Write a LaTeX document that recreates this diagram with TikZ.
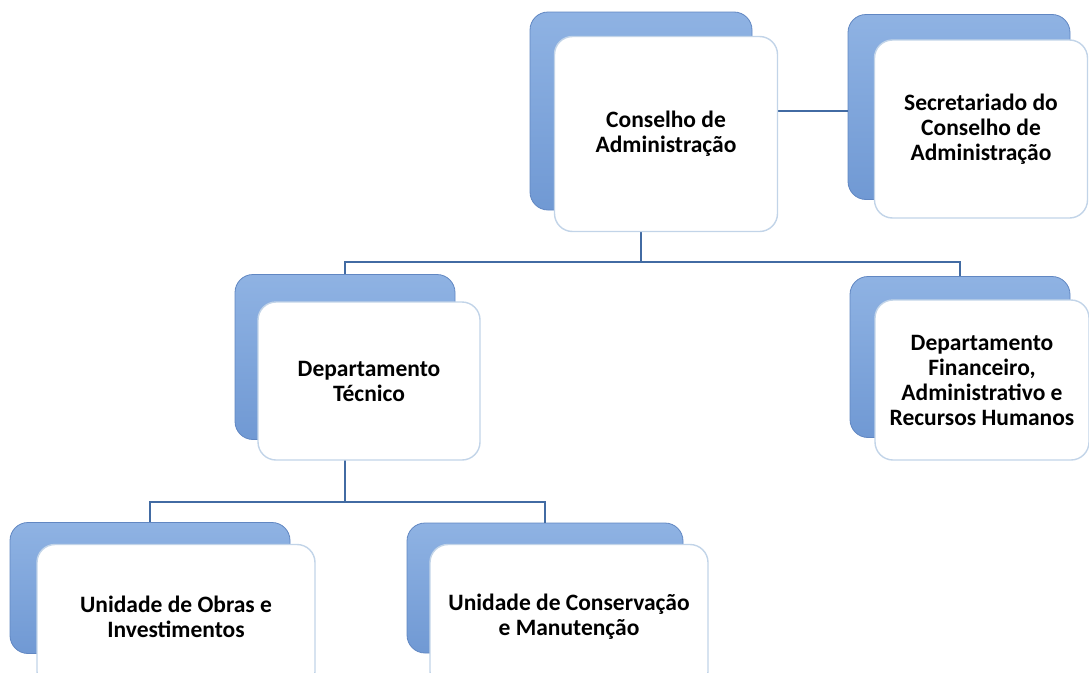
\documentclass[tikz,border=0pt]{standalone}
\usepackage{fontspec}
\setmainfont{Carlito}
\usetikzlibrary{positioning,calc}
\definecolor{cardblue}{rgb}{0.44, 0.60, 0.83}
\definecolor{cardbluetop}{rgb}{0.56, 0.70, 0.89}
\definecolor{cardedge}{rgb}{0.38, 0.53, 0.76}
\definecolor{whiteedge}{rgb}{0.76, 0.83, 0.91}
\definecolor{linkblue}{rgb}{0.26, 0.42, 0.64}
\tikzset{
	unitback/.style={
		rectangle,
		rounded corners=18pt,
		top color=cardbluetop,
		bottom color=cardblue,
		draw=cardedge, thick,
		inner sep=0pt},
	unitcard/.style={
		rectangle,
		rounded corners=18pt,
		fill=white,
		draw=whiteedge, line width=1.4pt,
		align=center,
		font=\bfseries\fontsize{23.5}{25}\selectfont,
		inner sep=0pt},
	link/.style={draw=linkblue, line width=1.8pt},
}

\begin{document}
\begin{tikzpicture}[x=1pt,y=-1pt]
\useasboundingbox (0,0) rectangle (1089,672);
% blue cards behind
\node[unitback, minimum width=222pt, minimum height=198pt] (cons-b) at (641,111) {};
\node[unitback, minimum width=222pt, minimum height=185pt] (sec-b) at (959,107) {};
\node[unitback, minimum width=220pt, minimum height=165pt] (tec-b) at (345,357) {};
\node[unitback, minimum width=220pt, minimum height=161pt] (fin-b) at (960,357) {};
\node[unitback, minimum width=280pt, minimum height=131pt] (obras-b) at (150,588) {};
\node[unitback, minimum width=276pt, minimum height=130pt] (cons-m-b) at (545,588) {};

% connectors
\coordinate (bus1) at (641,262);
\coordinate (bus2) at (345,502);
\draw[link] (cons-b.east) -- (cons-b.east -| sec-b.west);
\draw[link] (cons-b.south) -- (bus1) -| (tec-b.north);
\draw[link] (bus1) -| (fin-b.north);
\draw[link] (tec-b.south) -- (bus2) -| (obras-b.north);
\draw[link] (bus2) -| (cons-m-b.north);

% white cards
\node[unitcard, minimum width=223pt, minimum height=195pt] (conselho) at (666,134) {Conselho de\\Administração};
\node[unitcard, minimum width=213pt, minimum height=178pt] (secretariado) at (981,129) {Secretariado do\\Conselho de\\Administração};
\node[unitcard, minimum width=222pt, minimum height=158pt] (tecnico) at (369,381) {Departamento\\Técnico};
\node[unitcard, minimum width=214pt, minimum height=160pt] (financeiro) at (982,380) {Departamento\\Financeiro,\\Administrativo e\\Recursos Humanos};
\node[unitcard, minimum width=278pt, minimum height=145pt] (obras) at (176,617) {Unidade de Obras e\\Investimentos};
\node[unitcard, minimum width=278pt, minimum height=145pt] (conservacao) at (569,617) {Unidade de Conservação\\e Manutenção};
\end{tikzpicture}
\end{document}
